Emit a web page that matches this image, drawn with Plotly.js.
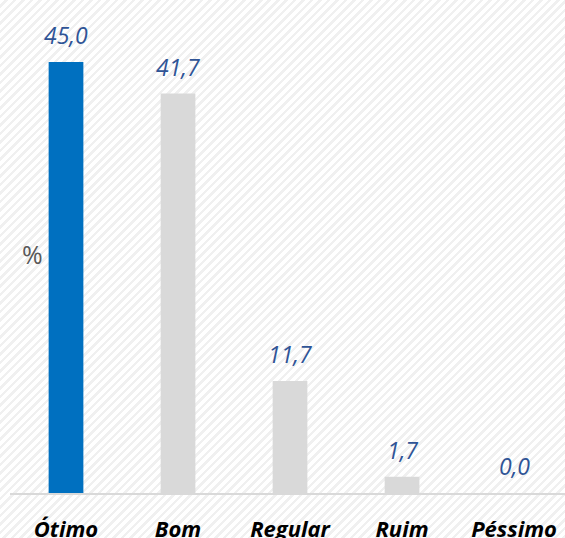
<!DOCTYPE html>
<html>
<head>
<meta charset="utf-8">
<script src="https://cdn.plot.ly/plotly-3.0.1.min.js"></script>
<style>
  html, body { margin: 0; padding: 0; }
  body {
    width: 565px; height: 538px; overflow: hidden;
    background: repeating-linear-gradient(135deg, #ffffff 0px, #ffffff 3.5px, #f0f0f0 3.5px, #f0f0f0 6px);
  }
  #chart { width: 565px; height: 538px; }
</style>
</head>
<body>
<div id="chart"></div>
<script>
const categories = ["Ótimo", "Bom", "Regular", "Ruim", "Péssimo"];
const values = [45.0, 41.7, 11.7, 1.7, 0.0];
const valueLabels = ["45,0", "41,7", "11,7", "1,7", "0,0"];
const barColors = ["#0070C0", "#D9D9D9", "#D9D9D9", "#D9D9D9", "#D9D9D9"];
const yAxisLabel = "%";

const trace = {
  type: "bar",
  x: categories,
  y: values,
  marker: { color: barColors },
  hoverinfo: "none"
};

const annotations = categories.map((c, i) => ({
  x: c, y: values[i], xref: "x", yref: "y",
  text: valueLabels[i], showarrow: false,
  yanchor: "middle", yshift: 27,
  font: { family: "Open Sans", size: 23, color: "#2F5496", style: "italic" }
}));
annotations.push({
  xref: "paper", yref: "paper", x: 0.04, y: 0.5,
  text: yAxisLabel, showarrow: false,
  xanchor: "center", yanchor: "middle",
  font: { family: "Open Sans", size: 25, color: "#595959" }
});

const layout = {
  width: 565, height: 538,
  margin: { l: 10, r: 0, t: 14, b: 45, pad: 0 },
  paper_bgcolor: "rgba(0,0,0,0)",
  plot_bgcolor: "rgba(0,0,0,0)",
  bargap: 0.69,
  showlegend: false,
  xaxis: {
    type: "category",
    range: [-0.5, 4.455],
    showgrid: false, zeroline: false,
    showline: true, linecolor: "#D9D9D9", linewidth: 2,
    ticks: "", ticklabelstandoff: 16,
    tickfont: { family: "Open Sans", size: 22, color: "#000000", weight: "bold", style: "italic" },
    fixedrange: true
  },
  yaxis: {
    range: [0, 50],
    showgrid: false, zeroline: false, showline: false,
    showticklabels: false, ticks: "",
    fixedrange: true
  },
  annotations: annotations
};

Plotly.newPlot("chart", [trace], layout, { displayModeBar: false, staticPlot: true });
</script>
</body>
</html>
